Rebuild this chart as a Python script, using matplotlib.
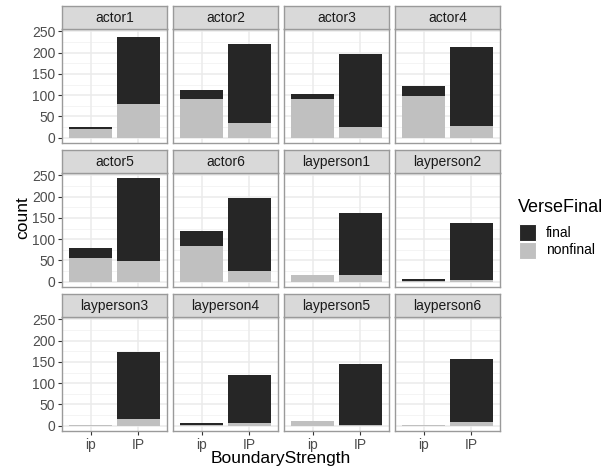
import matplotlib
matplotlib.use("Agg")
import matplotlib.pyplot as plt
from matplotlib.patches import Rectangle
import numpy as np

plt.rcParams['font.family'] = ['Liberation Sans', 'DejaVu Sans']

speakers = ["actor1", "actor2", "actor3", "actor4", "actor5", "actor6",
            "layperson1", "layperson2", "layperson3", "layperson4", "layperson5", "layperson6"]
categories = ["ip", "IP"]
# nonfinal counts per speaker: [ip, IP]
nonfinal = [[21, 79], [91, 34], [91, 25], [97, 28], [56, 48], [83, 25],
            [16, 16], [1, 3], [2, 16], [1, 6], [11, 1], [2, 9]]
# final counts per speaker: [ip, IP]
final = [[3, 157], [21, 187], [11, 171], [25, 185], [23, 196], [36, 173],
         [0, 146], [4, 134], [0, 157], [4, 113], [0, 143], [0, 147]]
series_names = ["final", "nonfinal"]
colors = {"final": "#262626", "nonfinal": "#C0C0C0"}
yticks = [0, 50, 100, 150, 200, 250]

W, H = 612, 470
fig = plt.figure(figsize=(W / 100, H / 100), dpi=100)

col_left = [62.3, 173.3, 284.3, 395.3]
pw = 104.5
strip_h = 22.8
panel_h = 114.0
gap = 7.2
top0 = 6.0

totals = np.array(nonfinal) + np.array(final)
ymax = totals.max()
ylim = (-0.05 * ymax, ymax * 1.05)

def fx(x):
    return x / W

def fy(y):
    return 1 - y / H

for i, sp in enumerate(speakers):
    r, c = divmod(i, 4)
    st = top0 + r * (strip_h + panel_h + gap)
    pt = st + strip_h
    pb = pt + panel_h
    ax = fig.add_axes([fx(col_left[c]), fy(pb), pw / W, panel_h / H])
    xs = np.arange(1, 3)
    nf = np.array(nonfinal[i])
    fn = np.array(final[i])
    ax.set_xlim(0.4, 2.6)
    ax.set_ylim(*ylim)
    ax.set_facecolor("white")
    for yv in [25, 75, 125, 175, 225]:
        ax.axhline(yv, color="#F2F2F2", lw=0.6, zorder=0)
    for yv in yticks:
        ax.axhline(yv, color="#EBEBEB", lw=1.1, zorder=0)
    for xv in xs:
        ax.axvline(xv, color="#EBEBEB", lw=1.1, zorder=0)
    ax.bar(xs, nf, width=0.9, color=colors["nonfinal"], zorder=2, linewidth=0)
    ax.bar(xs, fn, width=0.9, bottom=nf, color=colors["final"], zorder=2, linewidth=0)
    for s in ax.spines.values():
        s.set_color("#9A9A9A")
        s.set_linewidth(1.0)
    ax.set_yticks(yticks)
    ax.set_xticks(xs)
    ax.tick_params(length=3, width=0.8, color="#333333", labelsize=10,
                   labelcolor="#4D4D4D", pad=2)
    if c == 0:
        ax.set_yticklabels([str(v) for v in yticks])
    else:
        ax.tick_params(axis="y", length=0, labelleft=False)
    if r == 2:
        ax.set_xticklabels(categories)
    else:
        ax.tick_params(axis="x", length=0, labelbottom=False)
    # strip
    sax = fig.add_axes([fx(col_left[c]), fy(pt), pw / W, strip_h / H])
    sax.set_facecolor("#D9D9D9")
    sax.set_xticks([]); sax.set_yticks([])
    for s in sax.spines.values():
        s.set_color("#9A9A9A")
        s.set_linewidth(1.0)
    sax.text(0.5, 0.47, sp, ha="center", va="center", fontsize=10,
             color="#1A1A1A", transform=sax.transAxes)

# axis titles
fig.text(fx(281), fy(458), "BoundaryStrength", ha="center", va="center", fontsize=12.5)
fig.text(fx(23), fy(218), "count", ha="center", va="center", fontsize=12.5, rotation=90)

# legend
fig.text(fx(518), fy(207), "VerseFinal", ha="left", va="center", fontsize=13)
key_y = [223.5, 241.5]
for name, ky in zip(series_names, key_y):
    fig.patches.append(Rectangle((fx(518.5), fy(ky + 17.5)), 17.5 / W, 17.5 / H,
                                 transform=fig.transFigure, facecolor=colors[name],
                                 edgecolor="white", linewidth=0.8))
    fig.text(fx(546), fy(ky + 9), name, ha="left", va="center", fontsize=10)

fig.savefig("out.png", dpi=100, facecolor="white")
